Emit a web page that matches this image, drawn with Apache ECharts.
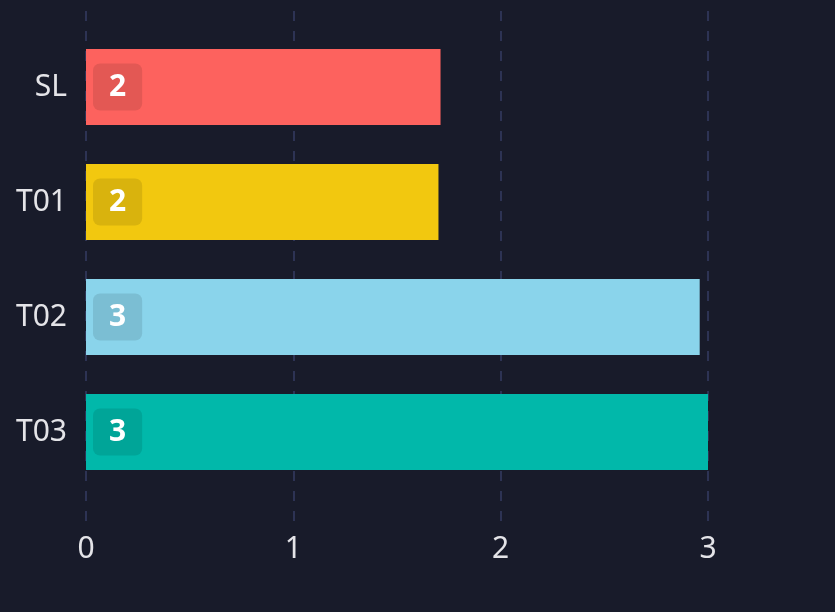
<!DOCTYPE html>
<html>
<head>
<meta charset="utf-8">
<script src="https://cdn.jsdelivr.net/npm/echarts@6/dist/echarts.min.js"></script>
<style>
html,body{margin:0;padding:0;background:#181b2a;}
#chart{width:835px;height:612px;}
</style>
</head>
<body>
<div id="chart"></div>
<script>
// categories and values
var categories = ['SL', 'T01', 'T02', 'T03'];
var values = [1.71, 1.70, 2.96, 3.0];
var barColors = ['#FD625E', '#F2C80F', '#8AD4EB', '#01B8AA'];
var xTicks = [0, 3.6, 1]; // min, max, interval

var chart = echarts.init(document.getElementById('chart'));

var textFont = 'Noto Sans';
var options = {
    backgroundColor:'#181b2a',
    animation:false,
    grid:[
        {left:86, top:11, width:746.4, height:511},   // split lines + x labels
        {left:86, top:29.5, width:746.4, height:460}  // bars
    ],
    xAxis:[
        {
            gridIndex:0,
            type:'value',
            min:xTicks[0], max:xTicks[1], interval:xTicks[2],
            axisLine:{show:false},
            axisTick:{show:false},
            axisLabel:{color:'#e4e4e8', fontSize:30, fontFamily:textFont, margin:12, showMaxLabel:false},
            splitLine:{showMaxLine:false, lineStyle:{color:'#2d3354', width:2, type:[10,10]}}
        },
        {
            gridIndex:1,
            type:'value',
            min:xTicks[0], max:xTicks[1], interval:xTicks[2],
            show:false
        }
    ],
    yAxis:[
        {gridIndex:0, type:'category', data:categories, show:false},
        {
            gridIndex:1,
            type:'category',
            inverse:true,
            data:categories,
            axisLine:{show:false},
            axisTick:{show:false},
            splitLine:{show:false},
            axisLabel:{color:'#e4e4e8', fontSize:30, fontFamily:textFont, margin:19, padding:[6,0,0,0]}
        }
    ],
    series:[
        {
            type:'bar',
            xAxisIndex:1,
            yAxisIndex:1,
            barWidth:76,
            data:values.map(function(v, i){
                return {value:v, itemStyle:{color:barColors[i]}};
            }),
            label:{
                show:true,
                position:'insideLeft',
                distance:7,
                formatter:function(p){ return Math.round(p.value); },
                color:'#ffffff',
                fontSize:30,
                fontWeight:'bold',
                fontFamily:textFont,
                lineHeight:31,
                backgroundColor:'rgba(0,0,0,0.1)',
                borderRadius:7,
                padding:[11,16,5,16]
            }
        }
    ]
};
chart.setOption(options);
</script>
</body>
</html>
